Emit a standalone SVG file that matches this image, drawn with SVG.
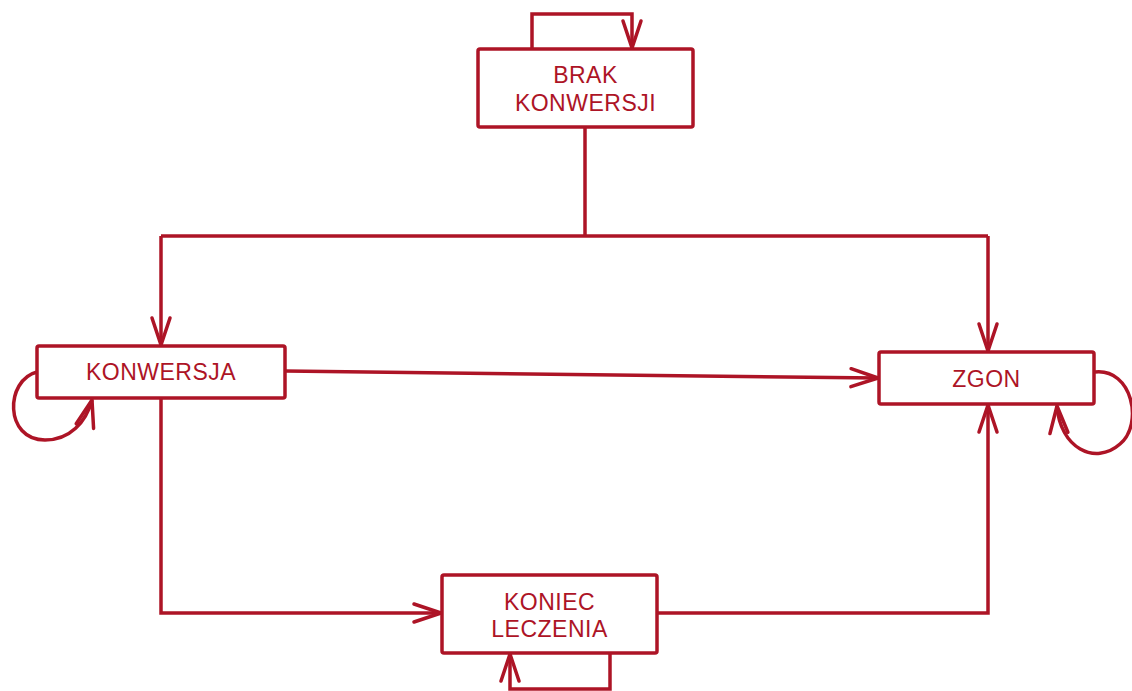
<svg xmlns="http://www.w3.org/2000/svg" width="1132" height="691" viewBox="0 0 1132 691">
<style>
.box{fill:#fff;stroke:#AD1426;stroke-width:3.5}
.lbl{font-family:"Liberation Sans",Arial,sans-serif;font-size:23px;letter-spacing:0.5px;fill:#AD1426;text-anchor:middle}
.edge{fill:none;stroke:#AD1426;stroke-width:3.5;marker-end:url(#arr)}
.line{fill:none;stroke:#AD1426;stroke-width:3.5}
</style>
<defs>
<marker id="arr" markerUnits="userSpaceOnUse" markerWidth="40" markerHeight="30" viewBox="-30 -15 40 30" refX="0" refY="0" orient="auto">
<path d="M-27,-9 L0,0 L-27,9" fill="none" stroke="#AD1426" stroke-width="3.5" stroke-linecap="round" stroke-linejoin="round"/>
</marker>
</defs>
<rect width="1132" height="691" fill="#fff"/>
<g id="connectors">
<path class="edge" d="M532,49 V14 H632 V48"/>
<path class="line" d="M585,127 V236"/>
<path class="line" d="M161,236 H988"/>
<path class="edge" d="M161,236 V345"/>
<path class="edge" d="M988,236 V351"/>
<path class="edge" d="M285,371 L878,378"/>
<path class="edge" d="M161,398 V613 H441"/>
<path class="edge" d="M657,613 H988 V405"/>
<path class="edge" d="M610,653 V689 H510 V654"/>
<path class="edge" d="M37,372 C5,380 4,440 45,440 C70,440 86,422 92,400"/>
<path class="edge" d="M1095,372 C1132,368 1144,424 1120,444 C1095,466 1060,448 1057,406"/>
</g>
<g id="brak">
<rect class="box" x="478" y="49" width="215" height="78" rx="2"/>
<text class="lbl" x="585.5" y="83">BRAK</text>
<text class="lbl" x="585.5" y="111">KONWERSJI</text>
</g>
<g id="konwersja">
<rect class="box" x="37" y="346" width="248" height="52" rx="2"/>
<text class="lbl" x="161" y="380">KONWERSJA</text>
</g>
<g id="zgon">
<rect class="box" x="879" y="352" width="215" height="52" rx="2"/>
<text class="lbl" x="986.5" y="387">ZGON</text>
</g>
<g id="koniec">
<rect class="box" x="442" y="575" width="215" height="78" rx="2"/>
<text class="lbl" x="549.5" y="610">KONIEC</text>
<text class="lbl" x="549.5" y="637">LECZENIA</text>
</g>
</svg>
